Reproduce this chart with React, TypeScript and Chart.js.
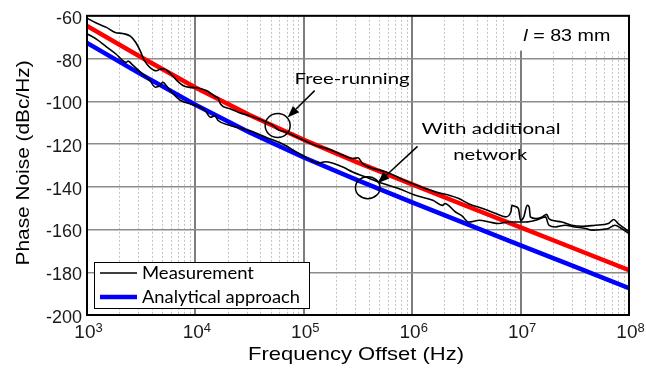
import { useEffect, useRef } from 'react';
import { Chart, registerables } from 'chart.js';

Chart.register(...registerables);

// Measured phase noise, free-running oscillator (Hz, dBc/Hz)
const freeRunFreq = [
  1.0e3, 1.23e3, 1.51e3, 1.82e3, 2.14e3, 2.51e3, 2.82e3, 3.09e3, 3.39e3, 3.8e3,
  4.37e3, 4.79e3, 5.13e3, 5.75e3, 6.76e3, 7.76e3, 8.91e3, 1.02e4, 1.26e4, 1.45e4,
  1.55e4, 1.62e4, 1.7e4, 2.09e4, 2.51e4, 3.16e4, 4.17e4, 5.01e4, 5.37e4, 5.62e4,
  6.92e4, 9.12e4, 1.29e5, 1.74e5, 2.14e5, 2.82e5, 3.16e5, 3.47e5, 5.75e5, 1.0e6,
  1.66e6, 2.19e6, 2.69e6, 3.31e6, 4.47e6, 5.89e6, 7.24e6, 8.13e6, 8.32e6, 8.91e6,
  9.55e6, 1.0e7, 1.07e7, 1.15e7, 1.2e7, 1.23e7, 1.38e7, 1.58e7, 1.74e7, 1.82e7,
  1.95e7, 2.4e7, 2.95e7, 3.72e7, 4.9e7, 6.46e7, 7.24e7, 7.94e7, 9.12e7, 1.0e8,
];
const freeRunNoise = [
  -61.1, -63.5, -65.4, -67.8, -68.3, -69.5, -72.5, -76.3, -81.0, -84.1,
  -85.7, -84.9, -84.9, -86.5, -90.3, -92.7, -93.5, -93.7, -95.0, -97.0,
  -98.0, -98.4, -101.2, -103.5, -105.2, -106.8, -109.0, -110.8, -111.8, -112.9,
  -114.5, -117.3, -120.7, -122.6, -124.5, -126.8, -126.4, -129.0, -133.1, -138.5,
  -142.5, -144.0, -145.5, -147.9, -150.2, -152.5, -154.1, -151.8, -148.7, -149.2,
  -150.2, -155.7, -154.1, -148.7, -149.5, -154.1, -154.9, -154.1, -152.9, -154.9,
  -155.7, -156.5, -158.0, -158.5, -158.0, -157.2, -155.3, -157.2, -159.5, -161.1,
];

// Measured phase noise with the additional network (Hz, dBc/Hz)
const networkFreq = [
  1.0e3, 1.23e3, 1.51e3, 1.86e3, 2.14e3, 2.29e3, 2.4e3, 2.63e3, 3.31e3, 3.8e3,
  4.27e3, 4.68e3, 5.01e3, 5.37e3, 6.03e3, 7.24e3, 9.55e3, 1.1e4, 1.23e4, 1.38e4,
  1.51e4, 1.62e4, 2.09e4, 3.16e4, 4.47e4, 6.31e4, 9.12e4, 1.38e5, 1.58e5, 2.29e5,
  2.82e5, 3.98e5, 5.37e5, 7.59e5, 1.07e6, 1.55e6, 1.91e6, 2.0e6, 2.51e6, 2.88e6,
  3.31e6, 4.17e6, 5.13e6, 6.31e6, 7.59e6, 9.55e6, 1.12e7, 1.38e7, 1.7e7, 1.82e7,
  2.09e7, 2.57e7, 3.16e7, 3.98e7, 4.57e7, 5.62e7, 6.46e7, 7.41e7, 8.51e7, 1.0e8,
];
const networkNoise = [
  -68.4, -71.0, -74.5, -78.0, -81.0, -81.8, -81.2, -83.0, -87.5, -90.3,
  -93.4, -92.8, -91.1, -92.6, -95.8, -99.5, -101.6, -102.6, -104.3, -107.5,
  -106.7, -109.0, -111.3, -113.7, -116.8, -119.9, -124.5, -128.8, -128.3, -130.8,
  -133.1, -136.0, -138.5, -140.9, -144.0, -146.3, -148.7, -147.8, -151.8, -153.6,
  -156.5, -155.7, -156.5, -157.2, -156.5, -156.5, -156.5, -155.7, -154.1, -158.0,
  -158.8, -158.0, -158.8, -159.5, -160.3, -160.0, -159.5, -158.0, -159.5, -161.9,
];

// Analytical approach (Hz, dBc/Hz)
const modelFreq = [1e3, 3.16e3, 1e4, 3.16e4, 1e5, 3.16e5, 1e6, 3.16e6, 1e7, 3.16e7, 1e8];
const modelFreeRun = [-64.7, -79.4, -93.5, -106.4, -118.0, -128.7, -138.9, -149.0, -159.0, -169.0, -179.0];
const modelNetwork = [-72.7, -87.4, -101.6, -114.6, -126.3, -137.0, -147.3, -157.4, -167.4, -177.4, -187.4];

// Axes
const decades = [1e3, 1e4, 1e5, 1e6, 1e7, 1e8];
const decadeExponents = ['3', '4', '5', '6', '7', '8'];
const yMin = -200;
const yMax = -60;
const yStep = 20;

const legendLabels = ['Measurement', 'Analytical approach'];

// Annotations, placed in data coordinates
const circleMarks = [
  { f: 5.74e4, db: -111.3, rx: 12.5, ry: 12 },
  { f: 3.89e5, db: -140.4, rx: 12.3, ry: 11 },
];
const arrowMarks = [
  { from: [1.26e5, -95.0], to: [7.08e4, -107.6] },
  { from: [1.12e6, -121.1], to: [4.79e5, -138.4] },
];
const noteTexts = [
  { text: 'Free-running', f: 8.22e4, db: -91.7, width: 115 },
  { text: 'With additional', f: 1.22e6, db: -115.2, width: 139 },
  { text: 'network', f: 2.39e6, db: -127.7, width: 74 },
];
const lengthLabel = { f: 1.06e7, db: -72.0, width: 87, boxFrom: 7.8e6, boxDb: -76.3 };

const SANS = '"Liberation Sans", Arial, sans-serif';
const HUMANIST = 'Lato, "Open Sans", sans-serif';

type Run = { text: string; font: string };

function drawRuns(
  ctx: CanvasRenderingContext2D,
  runs: Run[],
  x: number,
  y: number,
  width: number,
  align: 'left' | 'center' = 'left',
) {
  let total = 0;
  const widths = runs.map((r) => {
    ctx.font = r.font;
    const w = ctx.measureText(r.text).width;
    total += w;
    return w;
  });
  const sx = width > 0 ? width / total : 1;
  ctx.save();
  ctx.translate(align === 'center' ? x - (total * sx) / 2 : x, y);
  ctx.scale(sx, 1);
  ctx.textAlign = 'left';
  ctx.textBaseline = 'alphabetic';
  ctx.fillStyle = '#000';
  let cx = 0;
  runs.forEach((r, i) => {
    ctx.font = r.font;
    ctx.fillText(r.text, cx, 0);
    cx += widths[i];
  });
  ctx.restore();
}

const figurePlugin = {
  id: 'figureDecor',
  beforeDatasetsDraw(chart: any) {
    const { ctx, chartArea, scales } = chart;
    const x = scales.x;
    const y = scales.y;
    // white patch behind the length label
    const bx = x.getPixelForValue(lengthLabel.boxFrom);
    const by = y.getPixelForValue(lengthLabel.boxDb);
    ctx.save();
    ctx.fillStyle = '#fff';
    ctx.fillRect(bx, chartArea.top + 1, chartArea.right - bx - 1, by - chartArea.top - 1);
    ctx.restore();
    drawRuns(
      ctx,
      [
        { text: 'l', font: `italic 17px ${SANS}` },
        { text: ' = 83 mm', font: `17px ${SANS}` },
      ],
      x.getPixelForValue(lengthLabel.f),
      y.getPixelForValue(lengthLabel.db),
      lengthLabel.width,
    );
  },
  afterDatasetsDraw(chart: any) {
    const { ctx, chartArea, scales } = chart;
    const x = scales.x;
    const y = scales.y;
    ctx.save();
    ctx.strokeStyle = '#000';
    ctx.fillStyle = '#000';
    ctx.lineWidth = 1.5;

    circleMarks.forEach((c) => {
      ctx.beginPath();
      ctx.ellipse(x.getPixelForValue(c.f), y.getPixelForValue(c.db), c.rx, c.ry, 0, 0, Math.PI * 2);
      ctx.stroke();
    });

    arrowMarks.forEach((a) => {
      const x0 = x.getPixelForValue(a.from[0]);
      const y0 = y.getPixelForValue(a.from[1]);
      const x1 = x.getPixelForValue(a.to[0]);
      const y1 = y.getPixelForValue(a.to[1]);
      const ang = Math.atan2(y1 - y0, x1 - x0);
      const head = 12;
      const half = 4.5;
      const hx = x1 - head * Math.cos(ang);
      const hy = y1 - head * Math.sin(ang);
      ctx.beginPath();
      ctx.moveTo(x0, y0);
      ctx.lineTo(hx, hy);
      ctx.stroke();
      ctx.beginPath();
      ctx.moveTo(x1, y1);
      ctx.lineTo(hx + half * Math.sin(ang), hy - half * Math.cos(ang));
      ctx.lineTo(hx - half * Math.sin(ang), hy + half * Math.cos(ang));
      ctx.closePath();
      ctx.fill();
    });
    ctx.restore();

    noteTexts.forEach((n) => {
      drawRuns(
        ctx,
        [{ text: n.text, font: `16px ${HUMANIST}` }],
        x.getPixelForValue(n.f),
        y.getPixelForValue(n.db),
        n.width,
      );
    });

    // legend
    const lx = chartArea.left + 7;
    const ly = chartArea.bottom - 53;
    const lw = 215;
    const lh = 46;
    ctx.save();
    ctx.fillStyle = '#fff';
    ctx.fillRect(lx, ly, lw, lh);
    ctx.strokeStyle = '#000';
    ctx.lineWidth = 1;
    ctx.strokeRect(lx + 0.5, ly + 0.5, lw, lh);
    const sampleSets = [chart.data.datasets[0], chart.data.datasets[2]];
    const rowsY = [ly + 11, ly + 35];
    const textW = [112, 158];
    sampleSets.forEach((ds: any, i: number) => {
      ctx.beginPath();
      ctx.strokeStyle = ds.borderColor;
      ctx.lineWidth = ds.borderWidth;
      ctx.moveTo(lx + 6, rowsY[i]);
      ctx.lineTo(lx + 43, rowsY[i]);
      ctx.stroke();
    });
    ctx.restore();
    legendLabels.forEach((t, i) => {
      drawRuns(ctx, [{ text: t, font: `16.5px ${HUMANIST}` }], lx + 48, rowsY[i] + 6, textW[i]);
    });

    // plot frame
    ctx.save();
    ctx.strokeStyle = '#000';
    ctx.lineWidth = 2;
    ctx.strokeRect(chartArea.left, chartArea.top, chartArea.right - chartArea.left, chartArea.bottom - chartArea.top);
    ctx.restore();
  },
  afterDraw(chart: any) {
    const { ctx, chartArea, scales } = chart;
    const x = scales.x;
    // x tick labels as powers of ten
    decades.forEach((v, i) => {
      const px = x.getPixelForValue(v);
      ctx.save();
      ctx.fillStyle = '#1a1a1a';
      ctx.textBaseline = 'alphabetic';
      ctx.textAlign = 'left';
      ctx.font = `19px ${SANS}`;
      const w1 = ctx.measureText('10').width;
      ctx.font = `13px ${SANS}`;
      const w2 = ctx.measureText(decadeExponents[i]).width;
      const left = px + 1.5 - (w1 + w2) / 2;
      ctx.font = `19px ${SANS}`;
      ctx.fillText('10', left, 338);
      ctx.font = `13px ${SANS}`;
      ctx.fillText(decadeExponents[i], left + w1, 331.5);
      ctx.restore();
    });

    // axis titles
    const midX = (chartArea.left + chartArea.right) / 2;
    drawRuns(ctx, [{ text: 'Frequency Offset (Hz)', font: `19px ${SANS}` }], midX - 2, 360, 216, 'center');
    ctx.save();
    ctx.translate(28.5, (chartArea.top + chartArea.bottom) / 2 - 2.5);
    ctx.rotate(-Math.PI / 2);
    drawRuns(ctx, [{ text: 'Phase Noise (dBc/Hz)', font: `19px ${SANS}` }], 0, 0, 205, 'center');
    ctx.restore();
  },
};

const toPoints = (xs: number[], ys: number[]) => xs.map((f, i) => ({ x: f, y: ys[i] }));

export default function App() {
  const canvasRef = useRef<HTMLCanvasElement>(null);

  useEffect(() => {
    document.body.style.margin = '0';
    const canvas = canvasRef.current;
    if (!canvas) return;

    const gridFreqs: { value: number; major: boolean }[] = [];
    decades.forEach((d, i) => {
      gridFreqs.push({ value: d, major: true });
      if (i < decades.length - 1) {
        for (let m = 2; m <= 9; m++) gridFreqs.push({ value: d * m, major: false });
      }
    });

    const chart = new Chart(canvas, {
      type: 'line',
      data: {
        datasets: [
          {
            label: 'Measurement',
            data: toPoints(freeRunFreq, freeRunNoise),
            borderColor: '#000000',
            borderWidth: 1.6,
            pointRadius: 0,
            cubicInterpolationMode: 'monotone',
          },
          {
            label: 'Measurement (with additional network)',
            data: toPoints(networkFreq, networkNoise),
            borderColor: '#000000',
            borderWidth: 1.6,
            pointRadius: 0,
            cubicInterpolationMode: 'monotone',
          },
          {
            label: 'Analytical approach',
            data: toPoints(modelFreq, modelNetwork),
            borderColor: '#0000ff',
            borderWidth: 4.5,
            pointRadius: 0,
          },
          {
            label: 'Analytical approach (free-running)',
            data: toPoints(modelFreq, modelFreeRun),
            borderColor: '#ff0000',
            borderWidth: 4.5,
            pointRadius: 0,
          },
        ],
      },
      options: {
        animation: false,
        responsive: false,
        devicePixelRatio: 1,
        parsing: false,
        layout: { padding: { top: 15, right: 17, left: 0, bottom: 0 } },
        plugins: {
          legend: { display: false },
          tooltip: { enabled: false },
        },
        scales: {
          x: {
            type: 'logarithmic',
            min: 1e3,
            max: 1e8,
            afterBuildTicks: (scale: any) => {
              scale.ticks = gridFreqs.map((t) => ({ value: t.value, major: t.major }));
            },
            afterFit: (scale: any) => {
              scale.height = 53;
            },
            ticks: { display: false },
            grid: {
              drawTicks: false,
              color: (c: any) => (c.tick && c.tick.major ? '#7d7d7d' : '#c2c2c2'),
              lineWidth: (c: any) => (c.tick && c.tick.major ? 2 : 1),
            },
            border: {
              display: false,
              dash: (c: any) => (c.tick && c.tick.major ? [] : [2, 2]),
            },
          },
          y: {
            type: 'linear',
            min: yMin,
            max: yMax,
            afterFit: (scale: any) => {
              scale.width = 87;
            },
            ticks: {
              stepSize: yStep,
              padding: 5,
              labelOffset: 3,
              color: '#1a1a1a',
              font: { family: SANS, size: 18 },
            },
            grid: {
              drawTicks: false,
              color: '#8c8c8c',
              lineWidth: 1.5,
            },
            border: { display: false },
          },
        },
      },
      plugins: [figurePlugin],
    } as any);

    return () => chart.destroy();
  }, []);

  return (
    <div style={{ width: 646, height: 368, overflow: 'hidden', background: '#fff' }}>
      <canvas ref={canvasRef} width={646} height={368} style={{ display: 'block' }} />
    </div>
  );
}
